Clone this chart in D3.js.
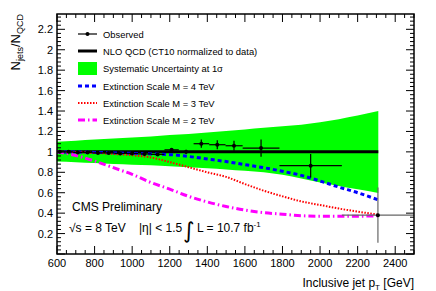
<!DOCTYPE html>
<html>
<head>
<meta charset="utf-8">
<script src="https://cdn.jsdelivr.net/npm/d3@7"></script>
<style>
  body { margin: 0; background: #fff; }
  svg { font-family: "Liberation Sans", Arial, sans-serif; }
</style>
</head>
<body>
<div class="chart"></div>
<script>
// observed ratio, bin centres and edges in GeV
const obsPt    = [615, 662, 711, 763, 818, 875, 936, 999, 1066, 1136, 1210, 1287, 1368, 1453, 1542, 1686, 1950, 2308];
const binLo    = [600, 638, 686, 737, 790, 846, 905, 967, 1032, 1101, 1172, 1248, 1327, 1410, 1497, 1588, 1784, 2116];
const binHi    = [638, 686, 737, 790, 846, 905, 967, 1032, 1101, 1172, 1248, 1327, 1410, 1497, 1588, 1784, 2116, 2500];
const obsRatio = [1.0, 1.0, 0.995, 0.995, 0.99, 0.99, 0.985, 0.985, 0.98, 0.975, 1.02, 1.0, 1.08, 1.07, 1.06, 1.037, 0.865, 0.38];
const obsErr   = [0.005, 0.005, 0.005, 0.005, 0.006, 0.006, 0.007, 0.008, 0.01, 0.012, 0.015, 0.02, 0.04, 0.045, 0.05, 0.085, 0.115, 0.27];

// model curves
const curvePt  = [600, 700, 800, 900, 1000, 1100, 1200, 1300, 1400, 1500, 1600, 1700, 1800, 1900, 2000, 2100, 2200, 2310];
const bandUp   = [1.10, 1.11, 1.12, 1.13, 1.14, 1.15, 1.165, 1.175, 1.19, 1.205, 1.22, 1.235, 1.25, 1.265, 1.29, 1.32, 1.355, 1.40];
const bandLo   = [0.905, 0.898, 0.89, 0.882, 0.875, 0.868, 0.86, 0.85, 0.84, 0.828, 0.815, 0.80, 0.775, 0.74, 0.70, 0.667, 0.633, 0.597];
const m4       = [1.0, 0.998, 0.995, 0.99, 0.985, 0.98, 0.973, 0.955, 0.93, 0.905, 0.875, 0.845, 0.81, 0.77, 0.715, 0.655, 0.60, 0.53];
const m3       = [1.0, 0.998, 0.99, 0.98, 0.967, 0.945, 0.90, 0.85, 0.80, 0.755, 0.685, 0.62, 0.565, 0.515, 0.48, 0.445, 0.415, 0.385];
const m2       = [1.0, 0.965, 0.91, 0.845, 0.78, 0.70, 0.635, 0.565, 0.51, 0.465, 0.43, 0.405, 0.39, 0.375, 0.37, 0.37, 0.37, 0.375];

const xTicks = [600, 800, 1000, 1200, 1400, 1600, 1800, 2000, 2200, 2400];
const yTicks = [0.2, 0.4, 0.6, 0.8, 1, 1.2, 1.4, 1.6, 1.8, 2, 2.2];

const legendItems = ['Observed', 'NLO QCD (CT10 normalized to data)', 'Systematic Uncertainty at 1\u03c3',
  'Extinction Scale M = 4 TeV', 'Extinction Scale M = 3 TeV', 'Extinction Scale M = 2 TeV'];

const w = 436, h = 291;
const pLeft = 57, pRight = 414, pTop = 14, pBottom = 254;

const svg = d3.select('div.chart').append('svg')
  .attr('width', w).attr('height', h);

const xScale = d3.scaleLinear().domain([600, 2500]).range([pLeft, pRight]);
const yScale = d3.scaleLinear().domain([0, 2.35]).range([pBottom, pTop]);

const band = curvePt.map((p, i) => ({p: p, up: bandUp[i], lo: bandLo[i]}));
svg.append('path')
  .datum(band)
  .attr('fill', '#00ff00')
  .attr('d', d3.area().curve(d3.curveMonotoneX)
    .x(d => xScale(d.p)).y0(d => yScale(d.lo)).y1(d => yScale(d.up)));

// NLO reference
svg.append('line')
  .attr('x1', xScale(600)).attr('x2', xScale(2310))
  .attr('y1', yScale(1)).attr('y2', yScale(1))
  .attr('stroke', '#000').attr('stroke-width', 3);

const line = d3.line().curve(d3.curveMonotoneX).x(d => xScale(d[0])).y(d => yScale(d[1]));
const styles = [
  {vals: m4, color: '#0000ff', width: 3, dash: '4,3'},
  {vals: m3, color: '#ff0000', width: 2, dash: '1.5,1.5'},
  {vals: m2, color: '#ff00ff', width: 3, dash: '7,3,1.5,3'}
];
styles.forEach(s => {
  svg.append('path')
    .datum(curvePt.map((p, i) => [p, s.vals[i]]))
    .attr('fill', 'none')
    .attr('stroke', s.color)
    .attr('stroke-width', s.width)
    .attr('stroke-dasharray', s.dash)
    .attr('d', line);
});

// data points with error bars
const pts = svg.append('g');
obsPt.forEach((p, i) => {
  const last = i == obsPt.length - 1;
  const col = last ? '#666' : '#000';
  pts.append('line')
    .attr('x1', xScale(binLo[i])).attr('x2', xScale(binHi[i]))
    .attr('y1', yScale(obsRatio[i])).attr('y2', yScale(obsRatio[i]))
    .attr('stroke', col).attr('stroke-width', 1.2);
  pts.append('line')
    .attr('x1', xScale(p)).attr('x2', xScale(p))
    .attr('y1', yScale(obsRatio[i] + obsErr[i])).attr('y2', yScale(obsRatio[i] - obsErr[i]))
    .attr('stroke', col).attr('stroke-width', 1.2);
  pts.append('circle')
    .attr('cx', xScale(p)).attr('cy', yScale(obsRatio[i]))
    .attr('r', 2).attr('fill', '#000');
});

// frame
svg.append('rect')
  .attr('x', pLeft).attr('y', pTop)
  .attr('width', pRight - pLeft).attr('height', pBottom - pTop)
  .attr('fill', 'none').attr('stroke', '#000').attr('stroke-width', 1.5);

// ticks on all four sides
const xMinor = d3.range(600, 2501, 50);
const yMinor = d3.range(0, 2.35, 0.04);
const tk = svg.append('g').attr('stroke', '#000').attr('stroke-width', 1);
xMinor.forEach(v => {
  const len = (v % 200 == 0) ? 8 : 4;
  const x = xScale(v);
  tk.append('line').attr('x1', x).attr('x2', x).attr('y1', pBottom).attr('y2', pBottom - len);
  tk.append('line').attr('x1', x).attr('x2', x).attr('y1', pTop).attr('y2', pTop + len);
});
yMinor.forEach((v, i) => {
  const len = (i % 5 == 0) ? 8 : 4;
  const y = yScale(v);
  tk.append('line').attr('x1', pLeft).attr('x2', pLeft + len).attr('y1', y).attr('y2', y);
  tk.append('line').attr('x1', pRight).attr('x2', pRight - len).attr('y1', y).attr('y2', y);
});

svg.selectAll('text.xt')
  .data(xTicks).enter().append('text')
  .attr('class', 'xt')
  .attr('x', d => xScale(d)).attr('y', 267)
  .attr('text-anchor', 'middle').attr('font-size', 11)
  .text(d => d);

svg.selectAll('text.yt')
  .data(yTicks).enter().append('text')
  .attr('class', 'yt')
  .attr('x', 53).attr('y', d => yScale(d) + 4)
  .attr('text-anchor', 'end').attr('font-size', 11)
  .text(d => d);

// axis titles
const xt = svg.append('text')
  .attr('x', pRight).attr('y', 287)
  .attr('text-anchor', 'end').attr('font-size', 12);
xt.append('tspan').text('Inclusive jet p');
xt.append('tspan').attr('font-size', 8).attr('dy', 3).text('T');
xt.append('tspan').attr('dy', -3).text(' [GeV]');

const yt = svg.append('text')
  .attr('transform', 'translate(20,' + pTop + ') rotate(-90)')
  .attr('text-anchor', 'end').attr('font-size', 13);
yt.append('tspan').text('N');
yt.append('tspan').attr('font-size', 9).attr('dy', 3).text('jets');
yt.append('tspan').attr('dy', -3).text('/N');
yt.append('tspan').attr('font-size', 9).attr('dy', 3).text('QCD');

// legend
const lg = svg.append('g');
const lgY = [34, 51, 68, 86, 103, 120];
legendItems.forEach((t, i) => {
  lg.append('text').attr('x', 103).attr('y', lgY[i] + 3.5)
    .attr('font-size', 9.4).text(t);
});
lg.append('line').attr('x1', 78).attr('x2', 97).attr('y1', lgY[0]).attr('y2', lgY[0])
  .attr('stroke', '#000').attr('stroke-width', 1.2);
lg.append('circle').attr('cx', 87.5).attr('cy', lgY[0]).attr('r', 2);
lg.append('line').attr('x1', 78).attr('x2', 97).attr('y1', lgY[1]).attr('y2', lgY[1])
  .attr('stroke', '#000').attr('stroke-width', 3);
lg.append('rect').attr('x', 78).attr('y', lgY[2] - 6).attr('width', 19).attr('height', 13)
  .attr('fill', '#00ff00');
styles.forEach((s, i) => {
  lg.append('line').attr('x1', 78).attr('x2', 97).attr('y1', lgY[3 + i]).attr('y2', lgY[3 + i])
    .attr('stroke', s.color).attr('stroke-width', s.width).attr('stroke-dasharray', s.dash);
});

// CMS labels
svg.append('text').attr('x', 72).attr('y', 211).attr('font-size', 12).text('CMS Preliminary');
svg.append('text').attr('x', 69).attr('y', 232).attr('font-size', 12).text('\u221as = 8 TeV');
svg.append('text').attr('x', 139).attr('y', 232).attr('font-size', 12).text('|\u03b7| < 1.5');
svg.append('text').attr('x', 183).attr('y', 238)
  .attr('font-family', 'DejaVu Sans').attr('font-size', 22).text('\u222b');
const lum = svg.append('text').attr('x', 197).attr('y', 232).attr('font-size', 12);
lum.append('tspan').text('L = 10.7 fb');
lum.append('tspan').attr('font-size', 8).attr('dy', -5).text('-1');
</script>
</body>
</html>
